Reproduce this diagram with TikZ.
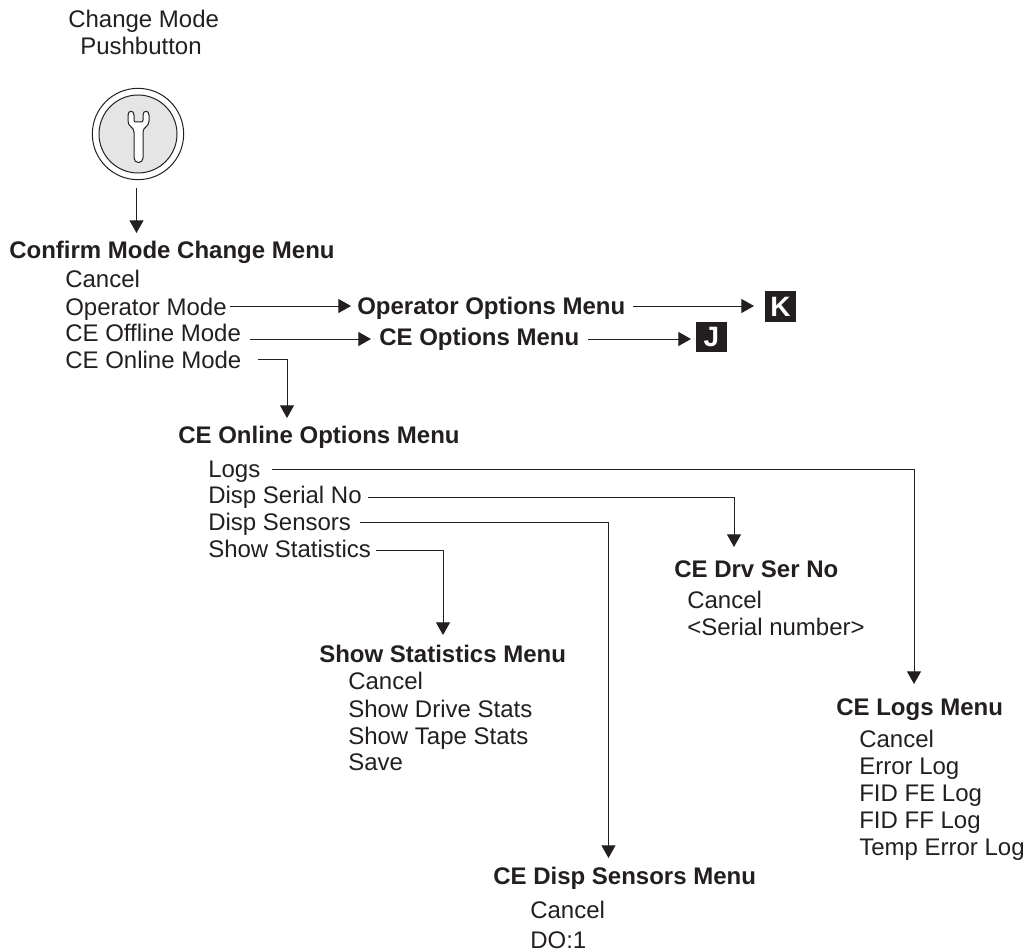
\documentclass[tikz,border=0pt]{standalone}
\usepackage{fontspec}
\setmainfont{Liberation Sans}
\usetikzlibrary{arrows.meta}
\definecolor{ink}{HTML}{231F20}
\tikzset{
 x=0.75pt,y=-0.75pt,
 txt/.style={anchor=base west,inner sep=0pt,text=ink,font=\fontsize{18pt}{21pt}\selectfont},
 ttl/.style={txt,font=\fontsize{18pt}{21pt}\selectfont\bfseries},
 link/.style={draw=ink,line width=0.75pt,-{Triangle[length=9.5pt,width=10.5pt]}},
 tag/.style={fill=ink,text=white,inner sep=0pt,minimum width=23pt,minimum height=23pt,font=\fontsize{21pt}{21pt}\selectfont\bfseries}
}
\begin{document}
\begin{tikzpicture}
\useasboundingbox (0,0) rectangle (1027,952);
\node[txt] (cm) at (68,28) {Change Mode};
\node[txt] (pb) at (80,55) {Pushbutton};
\node[circle,draw=ink,line width=0.75pt,minimum size=68.5pt,inner sep=0pt] (ring) at (138,134) {};
\node[circle,draw=ink,fill=black!10,line width=0.75pt,minimum size=58.5pt,inner sep=0pt] (btn) at (138,134) {};
\draw[draw=ink,line width=0.75pt,fill=white,line join=round]
 (134,158) -- (134,132) .. controls (134,127) and (128,127) .. (128,121)
 -- (128,115) .. controls (128,110) and (134,110) .. (134,115)
 -- (134,120) .. controls (134,122) and (135,122) .. (136,122)
 -- (141,122) .. controls (142,122) and (143,122) .. (143,120)
 -- (143,115) .. controls (143,110) and (149,110) .. (149,115)
 -- (149,121) .. controls (149,127) and (143,127) .. (143,132)
 -- (143,158) .. controls (143,164) and (134,164) .. (134,158) -- cycle;
\node[ttl] (conf) at (9,258) {Confirm Mode Change Menu};
\coordinate (a0) at (136.5,188);
\coordinate (a1) at (136.5,233);
\draw[link] (a0) -- (a1);
\node[txt] (c1) at (65,287) {Cancel};
\node[txt] (c2) at (65,315) {Operator Mode};
\node[txt] (c3) at (65,341) {CE Offline Mode};
\node[txt] (c4) at (65,368) {CE Online Mode};
\node[ttl] (oom) at (357,314.5) {Operator Options Menu};
\node[ttl] (ceo) at (379,345) {CE Options Menu};
\node[tag] (K) at (780.5,306.5) {K};
\node[tag] (J) at (711.5,337) {J};
\coordinate (op0) at (230,306);
\coordinate (op1) at (351,306);
\coordinate (k0) at (633,306);
\coordinate (k1) at (754,306);
\coordinate (of0) at (250,339);
\coordinate (of1) at (371,339);
\coordinate (j0) at (588,339);
\coordinate (j1) at (691,339);
\draw[link] (op0) -- (op1);
\draw[link] (k0) -- (k1);
\draw[link] (of0) -- (of1);
\draw[link] (j0) -- (j1);
\node[ttl] (col) at (178,443) {CE Online Options Menu};
\coordinate (on0) at (258,359);
\coordinate (on1) at (287,418);
\draw[link] (on0) -| (on1);
\node[txt] (l1) at (208,477) {Logs};
\node[txt] (l2) at (208,503) {Disp Serial No};
\node[txt] (l3) at (208,530) {Disp Sensors};
\node[txt] (l4) at (208,557) {Show Statistics};
\node[ttl] (drv) at (674,577) {CE Drv Ser No};
\node[txt] (d1) at (687,608) {Cancel};
\node[txt] (d2) at (687,635) {<Serial number>};
\node[ttl] (sst) at (319,662) {Show Statistics Menu};
\node[txt] (s1) at (348,689) {Cancel};
\node[txt] (s2) at (348,717) {Show Drive Stats};
\node[txt] (s3) at (348,744) {Show Tape Stats};
\node[txt] (s4) at (348,770) {Save};
\node[ttl] (log) at (836,715) {CE Logs Menu};
\node[txt] (g1) at (859,747) {Cancel};
\node[txt] (g2) at (859,774) {Error Log};
\node[txt] (g3) at (859,801) {FID FE Log};
\node[txt] (g4) at (859,828) {FID FF Log};
\node[txt] (g5) at (859,855) {Temp Error Log};
\node[ttl] (sen) at (493,884) {CE Disp Sensors Menu};
\node[txt] (n1) at (530,918) {Cancel};
\node[txt] (n2) at (530,948) {DO:1};
\coordinate (lg0) at (272,469);
\coordinate (lg1) at (914,684);
\coordinate (sr0) at (368,497);
\coordinate (sr1) at (734,547);
\coordinate (se0) at (360,522);
\coordinate (se1) at (608.5,858);
\coordinate (st0) at (376,550);
\coordinate (st1) at (443,635);
\draw[link] (lg0) -| (lg1);
\draw[link] (sr0) -| (sr1);
\draw[link] (se0) -| (se1);
\draw[link] (st0) -| (st1);
\end{tikzpicture}
\end{document}
